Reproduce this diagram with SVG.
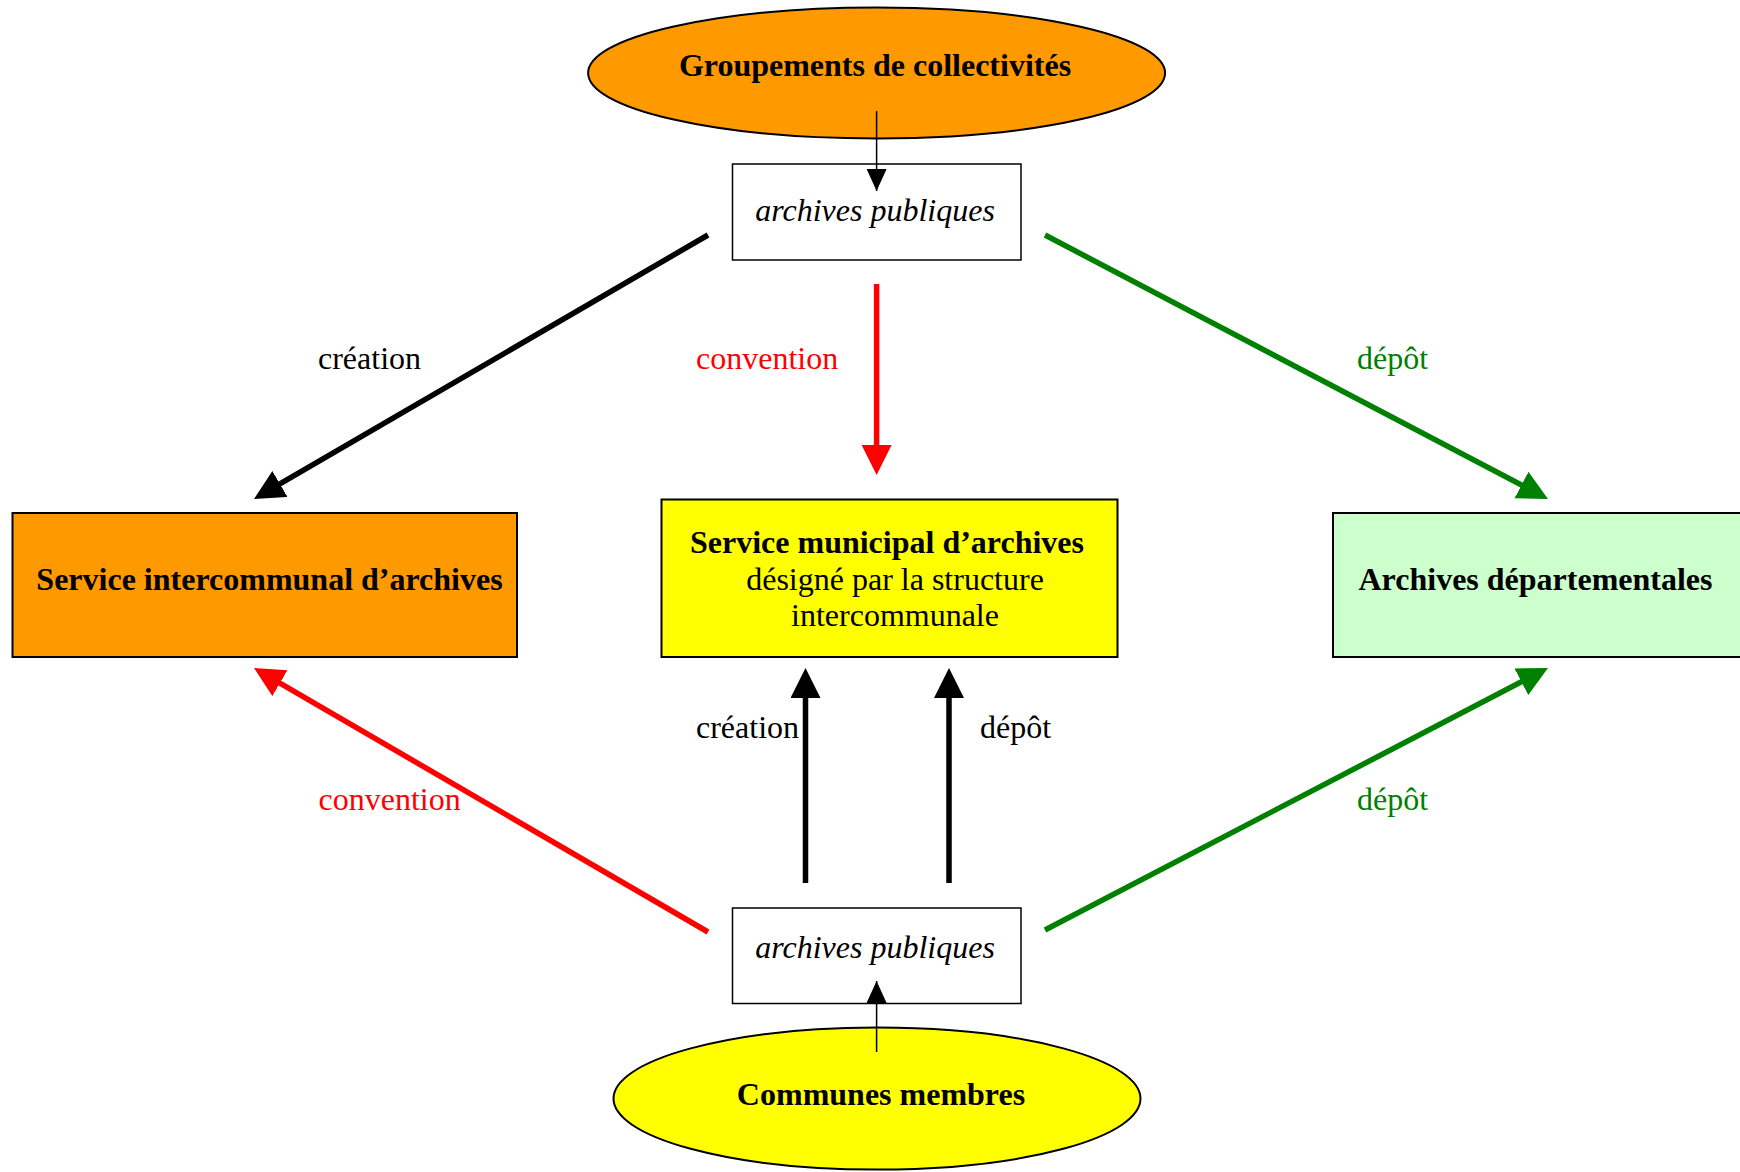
<svg xmlns="http://www.w3.org/2000/svg" width="1740" height="1172" viewBox="0 0 1740 1172">
<style>
text{font-family:"Liberation Serif","Times New Roman",serif;font-size:32px;fill:#000}
.b{font-weight:bold}
.i{font-style:italic}
.m{text-anchor:middle}
.shape{stroke:#000;stroke-width:2}
.thin{stroke:#000;stroke-width:1.5;fill:#fff}
.c{fill:none;stroke-width:5.5}
.s{fill:none;stroke:#000;stroke-width:1.5}
.red{fill:#ff0000}
.green{fill:#008000}
</style>
<defs>
<marker id="hk" markerUnits="userSpaceOnUse" markerWidth="32" markerHeight="32" viewBox="0 0 32 32" refX="5" refY="15" orient="auto"><path d="M0,0 L30,15 L0,30 z" fill="#000"/></marker>
<marker id="hr" markerUnits="userSpaceOnUse" markerWidth="32" markerHeight="32" viewBox="0 0 32 32" refX="5" refY="15" orient="auto"><path d="M0,0 L30,15 L0,30 z" fill="#ff0000"/></marker>
<marker id="hg" markerUnits="userSpaceOnUse" markerWidth="32" markerHeight="32" viewBox="0 0 32 32" refX="5" refY="15" orient="auto"><path d="M0,0 L30,15 L0,30 z" fill="#008000"/></marker>
<marker id="hs" markerUnits="userSpaceOnUse" markerWidth="24" markerHeight="22" viewBox="0 0 24 22" refX="22" refY="10" orient="auto"><path d="M0,0 L22,10 L0,20 z" fill="#000"/></marker>
</defs>

<g id="groupements">
<ellipse class="shape" cx="876.6" cy="73" rx="288.5" ry="65.5" fill="#ff9900" stroke-width="1.5"/>
<text class="b m" x="875" y="76">Groupements de collectivités</text>
</g>

<g id="archives-haut">
<rect class="thin" x="732.5" y="164" width="288.5" height="96"/>
<text class="i m" x="875" y="221">archives publiques</text>
</g>

<g id="service-intercommunal">
<rect class="shape" x="12.5" y="513" width="504.5" height="144" fill="#ff9900"/>
<text class="b m" x="269.5" y="590">Service intercommunal d’archives</text>
</g>

<g id="service-municipal">
<rect class="shape" x="661.5" y="499.5" width="456" height="157.5" fill="#ffff00"/>
<text class="b m" x="887" y="553">Service municipal d’archives</text>
<text class="m" x="895" y="590">désigné par la structure</text>
<text class="m" x="895" y="626">intercommunale</text>
</g>

<g id="archives-departementales">
<rect class="shape" x="1333" y="513" width="505" height="144" fill="#ccffcc"/>
<text class="b m" x="1535.5" y="590">Archives départementales</text>
</g>

<g id="archives-bas">
<rect class="thin" x="732.5" y="908" width="288.5" height="95.5"/>
<text class="i m" x="875" y="958">archives publiques</text>
</g>

<g id="communes">
<ellipse class="shape" cx="877" cy="1098.6" rx="263.5" ry="71" fill="#ffff00" stroke-width="1.5"/>
<text class="b m" x="881" y="1105">Communes membres</text>
</g>

<g id="connecteurs">
<line class="s" x1="876.6" y1="111" x2="876.6" y2="191" marker-end="url(#hs)"/>
<line class="s" x1="876.6" y1="1052" x2="876.6" y2="981" marker-end="url(#hs)"/>

<line class="c" stroke="#000" x1="708" y1="235" x2="275.6" y2="486.4" marker-end="url(#hk)"/>
<line class="c" stroke="#ff0000" x1="876.6" y1="284" x2="876.6" y2="450" marker-end="url(#hr)"/>
<line class="c" stroke="#008000" x1="1045" y1="235" x2="1525.9" y2="487.4" marker-end="url(#hg)"/>

<line class="c" stroke="#ff0000" x1="708" y1="932" x2="275.6" y2="680.6" marker-end="url(#hr)"/>
<line class="c" stroke="#008000" x1="1045" y1="930" x2="1525.8" y2="679.5" marker-end="url(#hg)"/>

<line class="c" stroke="#000" x1="805.5" y1="883" x2="805.5" y2="693" marker-end="url(#hk)"/>
<line class="c" stroke="#000" x1="949" y1="883" x2="949" y2="693" marker-end="url(#hk)"/>

<text x="318" y="369">création</text>
<text class="red" x="696" y="369">convention</text>
<text class="green" x="1357" y="369">dépôt</text>
<text x="696" y="738">création</text>
<text x="980" y="738">dépôt</text>
<text class="red" x="318.5" y="810">convention</text>
<text class="green" x="1357" y="810">dépôt</text>
</g>
</svg>
